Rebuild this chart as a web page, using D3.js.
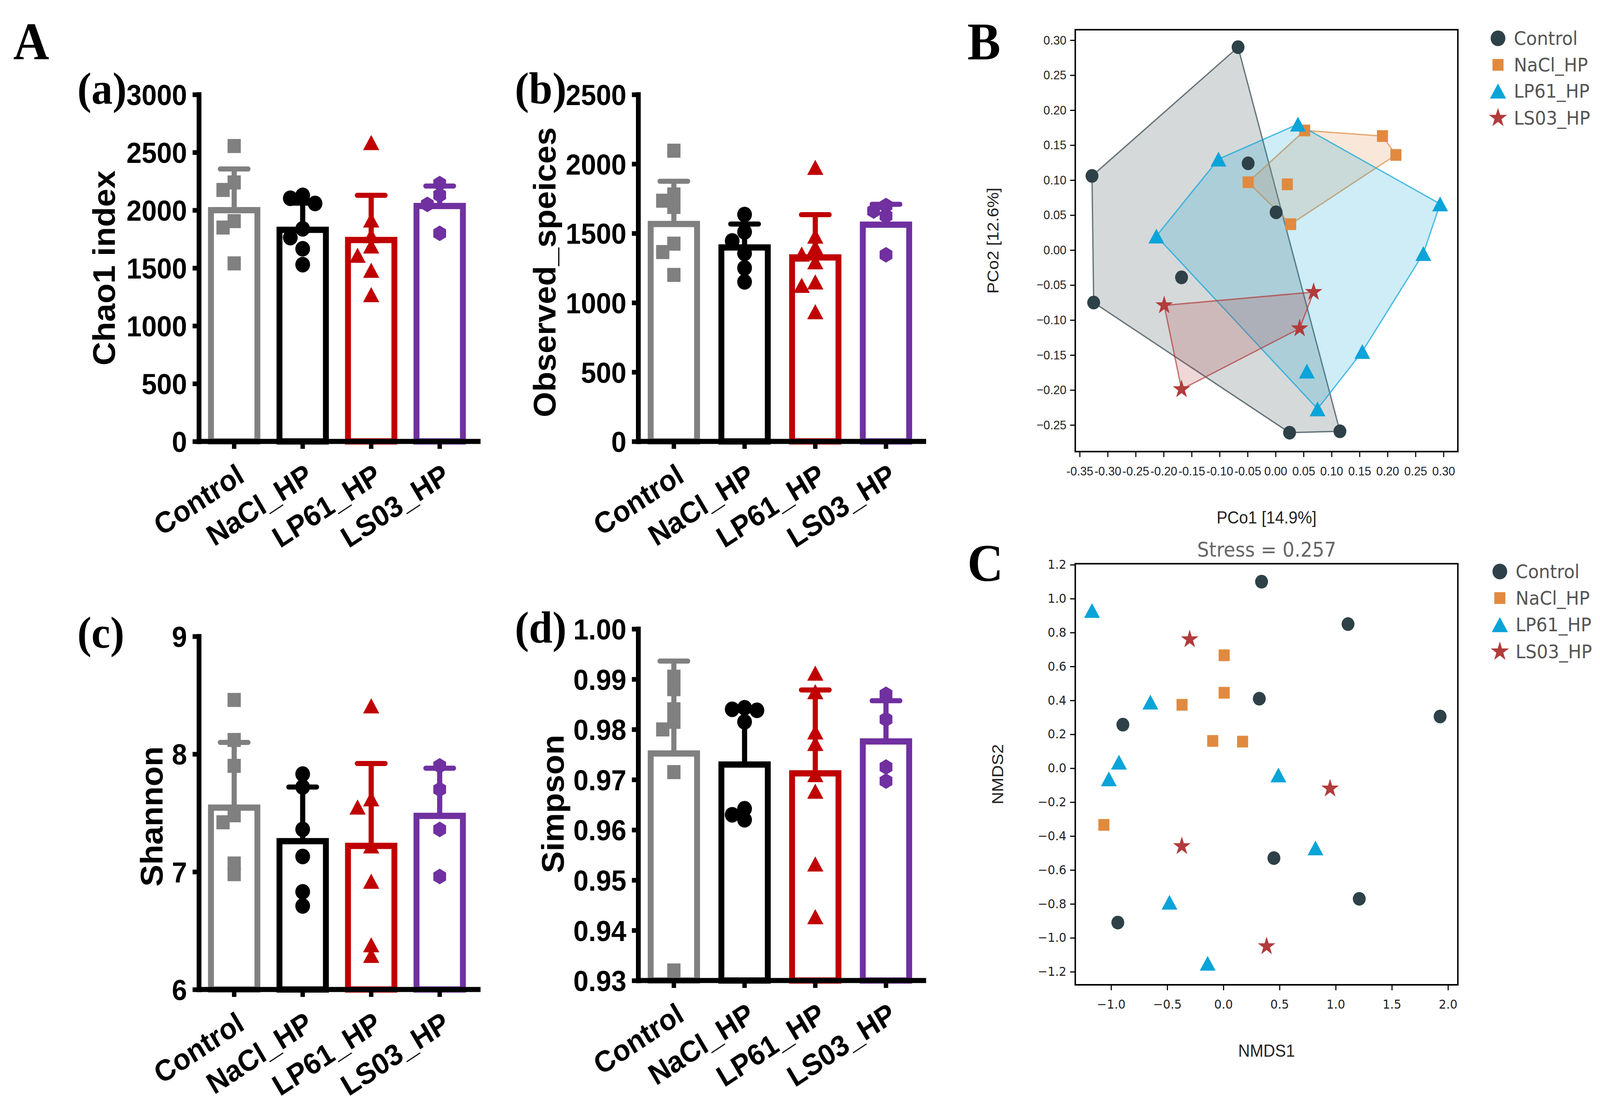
<!DOCTYPE html>
<html><head><meta charset="utf-8">
<script src="https://cdn.jsdelivr.net/npm/d3@7"></script>
<style>html,body{margin:0;padding:0;background:#fff;overflow:hidden}svg{display:block;width:100vw;height:100vh}</style>
</head><body>
<svg id="fig" viewBox="0 0 4345 2821" preserveAspectRatio="none"></svg>
<script>
// ---------------- DATA ----------------
const groups = ["Control", "NaCl_HP", "LP61_HP", "LS03_HP"];

// (a) Chao1 index
const chao1Ticks = [0, 500, 1000, 1500, 2000, 2500, 3000];
const chao1Mean = [2000, 1830, 1742, 2036];
const chao1SD = [356, 231, 386, 173];
const chao1Control = [2555, 2240, 2175, 1905, 1850, 1540];
const chao1NaCl = [2128, 2103, 2058, 1839, 1763, 1666, 1529];
const chao1LP61 = [2585, 1915, 1780, 1690, 1610, 1480, 1270];
const chao1LS03 = [2230, 2130, 2050, 1800];

// (b) Observed species
const obsTicks = [0, 500, 1000, 1500, 2000, 2500];
const obsMean = [1567, 1398, 1326, 1562];
const obsSD = [308, 169, 308, 147];
const obsControl = [2095, 1780, 1735, 1690, 1425, 1365, 1200];
const obsNaCl = [1635, 1510, 1445, 1355, 1250, 1150];
const obsLP61 = [1975, 1480, 1400, 1350, 1295, 1150, 1125, 935];
const obsLS03 = [1700, 1660, 1625, 1345];

// (c) Shannon
const shanTicks = [6, 7, 8, 9];
const shanMean = [7.545, 7.26, 7.22, 7.475];
const shanSD = [0.554, 0.46, 0.70, 0.405];
const shanControl = [8.46, 8.12, 7.9, 7.48, 7.42, 7.07, 6.98];
const shanNaCl = [7.83, 7.72, 7.36, 7.13, 6.83, 6.71];
const shanLP61 = [8.41, 7.62, 7.55, 7.22, 6.92, 6.38, 6.29];
const shanLS03 = [7.9, 7.7, 7.36, 6.96];

// (d) Simpson
const simpTicks = [0.93, 0.94, 0.95, 0.96, 0.97, 0.98, 0.99, 1.00];
const simpMean = [0.9752, 0.9730, 0.97125, 0.9776];
const simpSD = [0.0184, 0.0109, 0.0166, 0.0081];
const simpControl = [0.9905, 0.9880, 0.9840, 0.9815, 0.9800, 0.9715, 0.9320];
const simpNaCl = [0.9843, 0.9840, 0.9838, 0.9815, 0.9642, 0.9630, 0.9620];
const simpLP61 = [0.9912, 0.9875, 0.9795, 0.9772, 0.9710, 0.9677, 0.9532, 0.9427];
const simpLS03 = [0.9870, 0.9820, 0.9725, 0.9697];

// B  PCoA  [PCo1, PCo2]
const pcoaXTicks = [-0.35, -0.30, -0.25, -0.20, -0.15, -0.10, -0.05, 0.00, 0.05, 0.10, 0.15, 0.20, 0.25, 0.30];
const pcoaYTicks = [-0.25, -0.20, -0.15, -0.10, -0.05, 0.00, 0.05, 0.10, 0.15, 0.20, 0.25, 0.30];
const pcoaControl = [[-0.067, 0.290], [-0.328, 0.106], [-0.325, -0.075], [-0.049, 0.124], [0.001, 0.054], [-0.168, -0.039], [0.025, -0.261], [0.115, -0.259]];
const pcoaNaCl = [[0.052, 0.171], [0.191, 0.163], [0.215, 0.136], [-0.049, 0.097], [0.021, 0.094], [0.027, 0.037]];
const pcoaLP61 = [[0.040, 0.180], [-0.102, 0.130], [-0.213, 0.020], [0.294, 0.066], [0.264, -0.005], [0.155, -0.145], [0.056, -0.173], [0.075, -0.227]];
const pcoaLS03 = [[0.068, -0.060], [-0.199, -0.079], [0.043, -0.112], [-0.168, -0.199]];

// C  NMDS  [NMDS1, NMDS2]
const nmdsXTicks = [-1.0, -0.5, 0.0, 0.5, 1.0, 1.5, 2.0];
const nmdsYTicks = [-1.2, -1.0, -0.8, -0.6, -0.4, -0.2, 0.0, 0.2, 0.4, 0.6, 0.8, 1.0, 1.2];
const nmdsControl = [[0.34, 1.10], [1.11, 0.85], [0.32, 0.41], [-0.895, 0.257], [1.93, 0.305], [0.45, -0.53], [1.21, -0.77], [-0.94, -0.91]];
const nmdsNaCl = [[0.007, 0.666], [0.007, 0.445], [-0.368, 0.374], [-0.095, 0.161], [0.171, 0.157], [-1.064, -0.334]];
const nmdsLP61 = [[-1.17, 0.93], [-0.65, 0.39], [-0.93, 0.036], [-1.02, -0.063], [0.49, -0.04], [0.82, -0.47], [-0.48, -0.79], [-0.14, -1.15]];
const nmdsLS03 = [[-0.30, 0.76], [0.95, -0.12], [-0.37, -0.46], [0.385, -1.05]];
const nmdsStress = 0.257;

// ---------------- STYLE ----------------
const barColors = ["#808080", "#000000", "#C00000", "#7030A0"];
const barShapes = ["square", "circle", "triangle", "hexagon"];
const ordColors = ["#2E4148", "#E18A3F", "#0AA4D9", "#B23B3B"];
const ordShapes = ["circle", "square", "triangle", "star"];
const SANS = "'Liberation Sans', Arial, sans-serif";
const SERIF = "'Liberation Serif', 'Times New Roman', serif";
const DEJAVU = "'DejaVu Sans', sans-serif";

function shapePath(type, s) {
  if (type === "square") return d3.symbol(d3.symbolSquare, s * s)();
  if (type === "circle") return d3.symbol(d3.symbolCircle, Math.PI * s * s / 4)();
  if (type === "triangle") {
    const w = s, h = s * 0.88;
    return `M0,${-h / 2}L${w / 2},${h / 2}L${-w / 2},${h / 2}Z`;
  }
  if (type === "hexagon") {
    const r = s / 2;
    const pts = d3.range(6).map(k => { const a = (-90 + 60 * k) * Math.PI / 180; return [r * Math.cos(a), r * Math.sin(a)]; });
    return "M" + pts.map(p => p.join(",")).join("L") + "Z";
  }
  if (type === "star") {
    const R = s / 2;
    return d3.symbol(d3.symbolStar, R * R / 0.8908130915292852)();
  }
}

const svg = d3.select("#fig");
svg.append("rect").attr("width", 4345).attr("height", 2821).attr("fill", "#fff");

// ---------------- BAR PANELS ----------------
function spread(vals, y, size) {
  const order = vals.map((v, i) => ({ v, i, y: y(v) })).sort((a, b) => a.y - b.y);
  const placed = [];
  const step = size * 0.42;
  order.forEach(p => {
    const cands = [0];
    for (let k = 1; k < 6; k++) cands.push(-k * step, k * step);
    p.dx = 0;
    for (const dx of cands) {
      if (!placed.some(q => Math.abs(q.y - p.y) < size * 0.6 && Math.abs(q.dx - dx) < size * 0.6)) { p.dx = dx; break; }
    }
    placed.push(p);
  });
  return order;
}

function barPanel(cfg) {
  const g = svg.append("g");
  const x = d3.scaleBand().domain(groups).range([cfg.x0, cfg.x0 + cfg.bandLen]).paddingInner(cfg.pi).paddingOuter(cfg.po);
  const y = d3.scaleLinear().domain(cfg.domain).range([cfg.yZero, cfg.yTop]);
  const cx = d => x(d) + x.bandwidth() / 2;

  g.selectAll(".bar").data(groups).join("rect").attr("class", "bar")
    .attr("x", d => x(d)).attr("width", x.bandwidth())
    .attr("y", (d, i) => y(cfg.mean[i]))
    .attr("height", (d, i) => cfg.yZero - y(cfg.mean[i]))
    .attr("fill", "#fff").attr("stroke", (d, i) => barColors[i]).attr("stroke-width", 16);

  g.selectAll(".ev").data(groups).join("line").attr("class", "ev")
    .attr("x1", cx).attr("x2", cx)
    .attr("y1", (d, i) => y(cfg.mean[i])).attr("y2", (d, i) => y(cfg.mean[i] + cfg.sd[i]))
    .attr("stroke", (d, i) => barColors[i]).attr("stroke-width", 14);
  g.selectAll(".ec").data(groups).join("line").attr("class", "ec")
    .attr("x1", d => cx(d) - 38).attr("x2", d => cx(d) + 38)
    .attr("y1", (d, i) => y(cfg.mean[i] + cfg.sd[i])).attr("y2", (d, i) => y(cfg.mean[i] + cfg.sd[i]))
    .attr("stroke", (d, i) => barColors[i]).attr("stroke-width", 13).attr("stroke-linecap", "round");

  const sizes = [36, 40, 44, 40];
  cfg.pts.forEach((vals, gi) => {
    const placed = spread(vals, y, sizes[gi]);
    g.append("g").selectAll("path").data(placed).join("path")
      .attr("d", shapePath(barShapes[gi], sizes[gi]))
      .attr("transform", p => `translate(${cx(groups[gi]) + p.dx},${p.y})`)
      .attr("fill", barColors[gi]);
  });

  const ya = g.append("g").attr("transform", `translate(${cfg.x0},0)`)
    .call(d3.axisLeft(y).tickValues(cfg.ticks).tickFormat(cfg.fmt).tickSize(17).tickPadding(15).tickSizeOuter(0));
  ya.select(".domain").attr("stroke", "#000").attr("stroke-width", 13).attr("stroke-linecap", "square");
  ya.selectAll(".tick line").attr("stroke", "#000").attr("stroke-width", 12);
  ya.selectAll(".tick text").attr("font-family", SANS).attr("font-weight", "bold").attr("font-size", 74).attr("fill", "#000").attr("dy", "0.36em");

  g.append("line").attr("x1", cfg.x0 - 6).attr("x2", cfg.axisEnd).attr("y1", cfg.yZero).attr("y2", cfg.yZero)
    .attr("stroke", "#000").attr("stroke-width", 13);
  const xa = g.append("g").attr("transform", `translate(0,${cfg.yZero})`)
    .call(d3.axisBottom(x).tickSize(19).tickSizeOuter(0));
  xa.select(".domain").remove();
  xa.selectAll(".tick line").attr("stroke", "#000").attr("stroke-width", 12);
  xa.selectAll(".tick text").attr("x", 0).attr("y", 0).attr("dy", 0)
    .attr("transform", "translate(32,100) rotate(-32)")
    .style("text-anchor", "end")
    .attr("font-family", SANS).attr("font-weight", "bold").attr("font-size", 76).attr("fill", "#000");

  g.append("text").attr("transform", `translate(${cfg.titleX},${cfg.titleY}) rotate(-90)`)
    .attr("dy", "0.36em").attr("text-anchor", "middle")
    .attr("font-family", SANS).attr("font-weight", "bold").attr("font-size", 84).text(cfg.title);

  g.append("text").attr("x", cfg.labelX).attr("y", cfg.labelY)
    .attr("font-family", SERIF).attr("font-weight", "bold").attr("font-size", 115).text(cfg.label);
}

const intFmt = d3.format("d");
barPanel({ x0: 540, bandLen: 750, pi: 0.3226, po: 0.177, axisEnd: 1305, yZero: 1130, yTop: 242, domain: [0, 3000], ticks: chao1Ticks, fmt: intFmt,
  mean: chao1Mean, sd: chao1SD, pts: [chao1Control, chao1NaCl, chao1LP61, chao1LS03], title: "Chao1 index", titleX: 282, titleY: 686, label: "(a)", labelX: 210, labelY: 265 });
barPanel({ x0: 1733, bandLen: 770, pi: 0.344, po: 0.177, axisEnd: 2515, yZero: 1130, yTop: 242, domain: [0, 2500], ticks: obsTicks, fmt: intFmt,
  mean: obsMean, sd: obsSD, pts: [obsControl, obsNaCl, obsLP61, obsLS03], title: "Observed_speices", titleX: 1478, titleY: 697, label: "(b)", labelX: 1398, labelY: 265 });
barPanel({ x0: 540, bandLen: 750, pi: 0.3226, po: 0.177, axisEnd: 1305, yZero: 2533, yTop: 1629, domain: [6, 9], ticks: shanTicks, fmt: intFmt,
  mean: shanMean, sd: shanSD, pts: [shanControl, shanNaCl, shanLP61, shanLS03], title: "Shannon", titleX: 411, titleY: 2090, label: "(c)", labelX: 210, labelY: 1658 });
barPanel({ x0: 1733, bandLen: 770, pi: 0.344, po: 0.177, axisEnd: 2515, yZero: 2510, yTop: 1610, domain: [0.93, 1.00], ticks: simpTicks, fmt: d3.format(".2f"),
  mean: simpMean, sd: simpSD, pts: [simpControl, simpNaCl, simpLP61, simpLS03], title: "Simpson", titleX: 1500, titleY: 2058, label: "(d)", labelX: 1398, labelY: 1645 });

[["A", 36, 152], ["B", 2627, 152], ["C", 2627, 1487]].forEach(([t, x, y]) => {
  svg.append("text").attr("x", x).attr("y", y).attr("font-family", SERIF).attr("font-weight", "bold").attr("font-size", 135).text(t);
});

// ---------------- ORDINATION PANELS ----------------
function ordPanel(cfg) {
  const g = svg.append("g");
  const x = d3.scaleLinear().domain(cfg.xDomain).range([cfg.left, cfg.right]);
  const y = d3.scaleLinear().domain(cfg.yDomain).range([cfg.bottom, cfg.top]);
  const sets = cfg.sets;

  if (cfg.hulls) {
    sets.forEach((pts, gi) => {
      const hull = d3.polygonHull(pts.map(p => [x(p[0]), y(p[1])]));
      g.append("path").attr("d", "M" + hull.map(p => p.join(",")).join("L") + "Z")
        .attr("fill", ordColors[gi]).attr("fill-opacity", 0.2)
        .attr("stroke", ordColors[gi]).attr("stroke-opacity", 0.7).attr("stroke-width", 3.5).attr("stroke-linejoin", "round");
    });
  }
  const sizes = { circle: 35, square: 30, triangle: 43, star: 50 };
  sets.forEach((pts, gi) => {
    const sh = ordShapes[gi];
    g.append("g").selectAll("path").data(pts).join("path")
      .attr("d", shapePath(sh, sizes[sh]))
      .attr("transform", p => `translate(${x(p[0])},${y(p[1])})`)
      .attr("fill", ordColors[gi]);
  });

  g.append("rect").attr("x", cfg.left).attr("y", cfg.top).attr("width", cfg.right - cfg.left).attr("height", cfg.bottom - cfg.top)
    .attr("fill", "none").attr("stroke", "#000").attr("stroke-width", 4);

  const xa = g.append("g").attr("transform", `translate(0,${cfg.bottom})`)
    .call(d3.axisBottom(x).tickValues(cfg.xTicks).tickFormat(cfg.xFmt).tickSize(14).tickPadding(24).tickSizeOuter(0));
  const ya = g.append("g").attr("transform", `translate(${cfg.left},0)`)
    .call(d3.axisLeft(y).tickValues(cfg.yTicks).tickFormat(cfg.yFmt).tickSize(14).tickPadding(10).tickSizeOuter(0));
  [xa, ya].forEach(a => {
    a.select(".domain").remove();
    a.selectAll(".tick line").attr("stroke", "#000").attr("stroke-width", 3);
    a.selectAll(".tick text").attr("font-family", cfg.tickFont).attr("font-size", 32).attr("fill", "#222");
  });

  g.append("text").attr("x", (cfg.left + cfg.right) / 2).attr("y", cfg.xTitleY).attr("text-anchor", "middle")
    .attr("font-family", SANS).attr("font-size", 44).attr("fill", "#222").text(cfg.xTitle);
  g.append("text").attr("transform", `translate(${cfg.yTitleX},${(cfg.top + cfg.bottom) / 2}) rotate(-90)`)
    .attr("dy", "0.36em").attr("text-anchor", "middle")
    .attr("font-family", SANS).attr("font-size", 44).attr("fill", "#222").text(cfg.yTitle);

  cfg.legendY.forEach((ly, gi) => {
    const sh = ordShapes[gi];
    const ls = { circle: 40, square: 30, triangle: 44, star: 52 }[sh];
    g.append("path").attr("d", shapePath(sh, ls)).attr("transform", `translate(${cfg.legendX},${ly})`).attr("fill", ordColors[gi]);
    g.append("text").attr("x", cfg.legendX + 43).attr("y", ly).attr("dy", "0.36em")
      .attr("font-family", DEJAVU).attr("font-size", 48).attr("fill", "#555").text(groups[gi]);
  });
}

const f2 = d3.format(".2f");
ordPanel({
  left: 2920, right: 3959, top: 76, bottom: 1156,
  xDomain: [-0.3579, 0.3257], yDomain: [-0.288, 0.315],
  xTicks: pcoaXTicks, yTicks: pcoaYTicks,
  xFmt: d => f2(d).replace("\u2212", "-"), yFmt: f2, tickFont: SANS,
  sets: [pcoaControl, pcoaNaCl, pcoaLP61, pcoaLS03], hulls: true,
  xTitle: "PCo1 [14.9%]", xTitleY: 1340, yTitle: "PCo2 [12.6%]", yTitleX: 2696,
  legendX: 4068, legendY: [98, 166, 233, 302]
});
const f1 = d3.format(".1f");
ordPanel({
  left: 2920, right: 3959, top: 1443, bottom: 2521,
  xDomain: [-1.319, 2.088], yDomain: [-1.277, 1.206],
  xTicks: nmdsXTicks, yTicks: nmdsYTicks,
  xFmt: f1, yFmt: f1, tickFont: DEJAVU,
  sets: [nmdsControl, nmdsNaCl, nmdsLP61, nmdsLS03], hulls: false,
  xTitle: "NMDS1", xTitleY: 2705, yTitle: "NMDS2", yTitleX: 2708,
  legendX: 4073, legendY: [1463, 1531, 1599, 1668]
});
svg.append("text").attr("x", 3440).attr("y", 1425).attr("text-anchor", "middle")
  .attr("font-family", DEJAVU).attr("font-size", 51).attr("fill", "#666")
  .text("Stress = " + nmdsStress.toFixed(3));
</script>
</body></html>
